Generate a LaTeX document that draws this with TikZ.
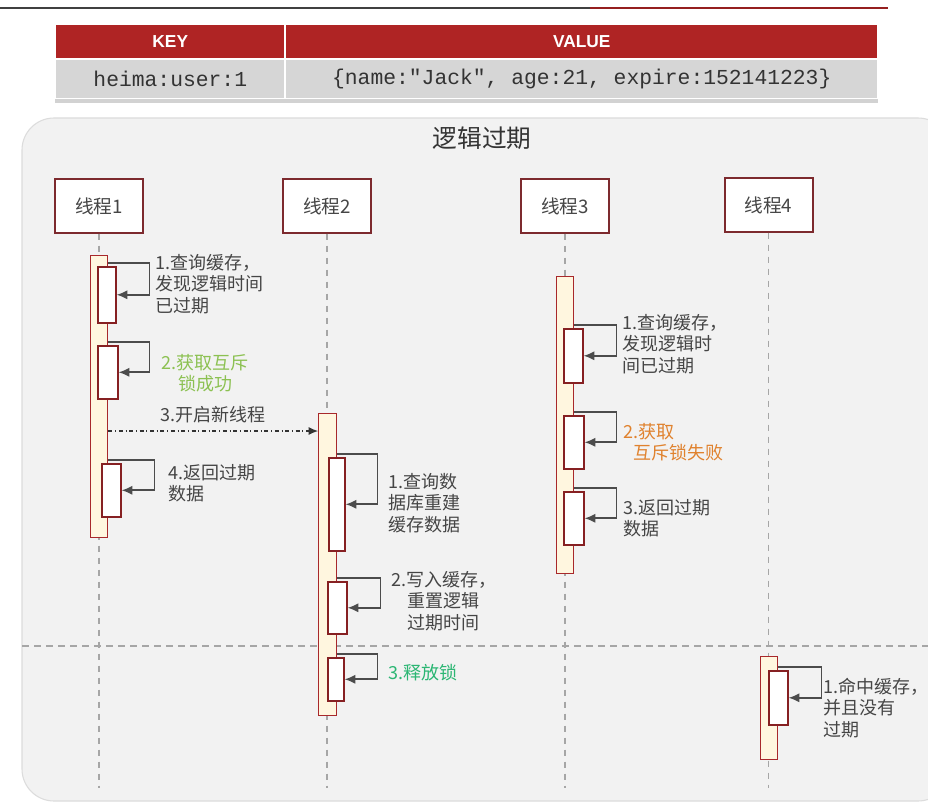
\documentclass[tikz,border=0pt]{standalone}
\usepackage{fontspec}
\setmainfont{Noto Sans CJK SC}
\newfontfamily\monofnt{Liberation Mono}
\newfontfamily\hdrfnt{Liberation Sans}
\usepackage{xcolor}
\usetikzlibrary{arrows.meta, positioning, shadows}

\definecolor{hdrred}{HTML}{AF2424}
\definecolor{rowgray}{HTML}{D6D6D6}
\definecolor{panelbg}{HTML}{F2F2F2}
\definecolor{panelline}{HTML}{DCDCDC}
\definecolor{threadred}{HTML}{7D2A2E}
\definecolor{barfill}{HTML}{FFF6DF}
\definecolor{barred}{HTML}{A8282B}
\definecolor{txtgray}{HTML}{454545}
\definecolor{okgreen}{HTML}{8CC152}
\definecolor{relgreen}{HTML}{2BB673}
\definecolor{failorange}{HTML}{E0822E}

% 激活框: 名称, 左上 x, y, 右下 x, y, 样式
\newcommand{\actbox}[6]{\node[#6, minimum width={(#4-#2)*0.75pt},
  minimum height={(#5-#3)*0.75pt}, anchor=north west] (#1) at (#2,#3) {};}
% 自调用箭头: 生命线框, 激活框, 向右距离
\newcommand{\selfcall}[3]{\draw[selfmsg] (#1.east |- #2.north) ++(0,-3)
  -- ++(#3,0) |- (#2.east);}

\begin{document}
\begin{tikzpicture}[x=0.75pt, y=-0.75pt, >=Latex,
    thread/.style={draw=threadred, fill=white, line width=1.5pt,
      minimum width=66pt, minimum height=40pt, text=txtgray,
      font=\fontsize{14}{16}\selectfont},
    bar/.style={draw=barred, fill=barfill, line width=1.1pt, inner sep=0pt},
    call/.style={draw=barred!80!black, fill=white, line width=1.2pt, inner sep=0pt},
    selfmsg/.style={draw=black!70, line width=1.4pt, -{Latex[length=8pt, width=7pt]}},
    asyncmsg/.style={draw=black!80, line width=0.8pt, dash dot, -{Latex[length=7pt, width=6pt]}},
    lifeline/.style={draw=black!35, line width=0.8pt, dash pattern=on 5pt off 4pt},
    lbl/.style={text=txtgray, font=\fontsize{13.5}{16}\selectfont, inner sep=0pt,
      align=left, anchor=north west},
    hdrcell/.style={fill=hdrred, text=white, inner sep=0pt, anchor=north west,
      font=\hdrfnt\bfseries\fontsize{13}{15}\selectfont},
    rowcell/.style={fill=rowgray, text=black!80, inner sep=0pt, anchor=north west,
      font=\monofnt\fontsize{16}{18}\selectfont}]
    \useasboundingbox (0,0) rectangle (928,802);
    \clip (0,0) rectangle (928,802);
    \fill[white] (0,0) rectangle (928,802);

    % 顶部线条
    \draw[line width=1.5pt, black!75] (0,8) -- (590,8);
    \draw[line width=2pt, hdrred!85!black] (590,8) -- (888,8);

    % 表格
    \fill[white, drop shadow={opacity=0.35, shadow xshift=0pt, shadow yshift=-3pt}]
      (55,24) rectangle (878,99);
    \node[hdrcell, minimum width=228*0.75pt, minimum height=33*0.75pt] (hkey) at (56,25) {KEY};
    \node[hdrcell, minimum width=591*0.75pt, minimum height=33*0.75pt] (hval) at (286,25) {VALUE};
    \node[rowcell, minimum width=228*0.75pt, minimum height=38*0.75pt] (dkey) at (56,60) {heima:user:1};
    \node[rowcell, minimum width=591*0.75pt, minimum height=38*0.75pt] (dval) at (286,60)
      {\{name:"Jack", age:21, expire:152141223\}};

    % 背景面板
    \draw[fill=panelbg, draw=panelline, line width=0.8pt, rounded corners=24pt]
      (22,118) rectangle (950,801);
    \node[text=black!80, font=\fontsize{18.5}{20}\selectfont] (title) at (482,138) {逻辑过期};

    % 线程
    \node[thread] (t1) at (99,206) {线程1};
    \node[thread] (t2) at (327,206) {线程2};
    \node[thread] (t3) at (565,206) {线程3};
    \node[thread] (t4) at (768.5,205) {线程4};

    % 生命线
    \coordinate (lifeend) at (0,788);
    \foreach \t in {t1,t2,t3,t4}
      \draw[lifeline] (\t.south) -- (\t.south |- lifeend);

    % 分隔线
    \coordinate (sepL) at (22,646);
    \coordinate (sepR) at (928,646);
    \draw[lifeline] (sepL) -- (sepR);

    % 激活条
    \actbox{bar1}{90}{255}{107}{537}{bar}
    \actbox{bar2}{318}{413}{336}{715}{bar}
    \actbox{bar3}{556}{276}{573}{573}{bar}
    \actbox{bar4}{760}{656}{777}{759}{bar}

    % 调用框
    \actbox{a11}{97}{266}{115}{322}{call}
    \actbox{a12}{97}{345}{117}{398}{call}
    \actbox{a14}{101}{463}{120}{516}{call}
    \actbox{a21}{328}{457}{344}{550}{call}
    \actbox{a22}{327}{581}{346}{633}{call}
    \actbox{a23}{327}{657}{343}{700}{call}
    \actbox{a31}{563}{328}{582}{382}{call}
    \actbox{a32}{563}{415}{583}{468}{call}
    \actbox{a33}{563}{491}{583}{544}{call}
    \actbox{a41}{768}{670}{787}{724}{call}

    % 自调用
    \selfcall{bar1}{a11}{41}
    \selfcall{bar1}{a12}{41}
    \selfcall{bar1}{a14}{46}
    \selfcall{bar2}{a21}{40}
    \selfcall{bar2}{a22}{43}
    \selfcall{bar2}{a23}{40}
    \selfcall{bar3}{a31}{42}
    \selfcall{bar3}{a32}{42}
    \selfcall{bar3}{a33}{42}
    \selfcall{bar4}{a41}{43}

    % 开启新线程
    \path (bar2.north west) ++(0,18) coordinate (spawn);
    \draw[asyncmsg] (bar1.east |- spawn) -- (spawn)
      node[midway, above=2pt, text=txtgray, font=\fontsize{13.5}{16}\selectfont] (m13) {3.开启新线程};

    % 说明文字
    \node[lbl] (l11) at (155,254) {1.查询缓存，\\发现逻辑时间\\已过期};
    \node[lbl, text=okgreen, align=center, anchor=north] (l12) at (205,354) {2.获取互斥\\锁成功};
    \node[lbl] (l14) at (168,464) {4.返回过期\\数据};
    \node[lbl] (l21) at (388,473) {1.查询数\\据库重建\\缓存数据};
    \node[lbl, align=center] (l22) at (391,571) {2.写入缓存，\\重置逻辑\\过期时间};
    \node[lbl, text=relgreen] (l23) at (388,664) {3.释放锁};
    \node[lbl] (l31) at (622,314) {1.查询缓存，\\发现逻辑时\\间已过期};
    \node[lbl, text=failorange] (l32) at (623,423) {2.获取\\\hspace*{7.5pt}互斥锁失败};
    \node[lbl] (l33) at (623,499) {3.返回过期\\数据};
    \node[lbl] (l41) at (823,678) {1.命中缓存，\\并且没有\\过期};
\end{tikzpicture}
\end{document}
